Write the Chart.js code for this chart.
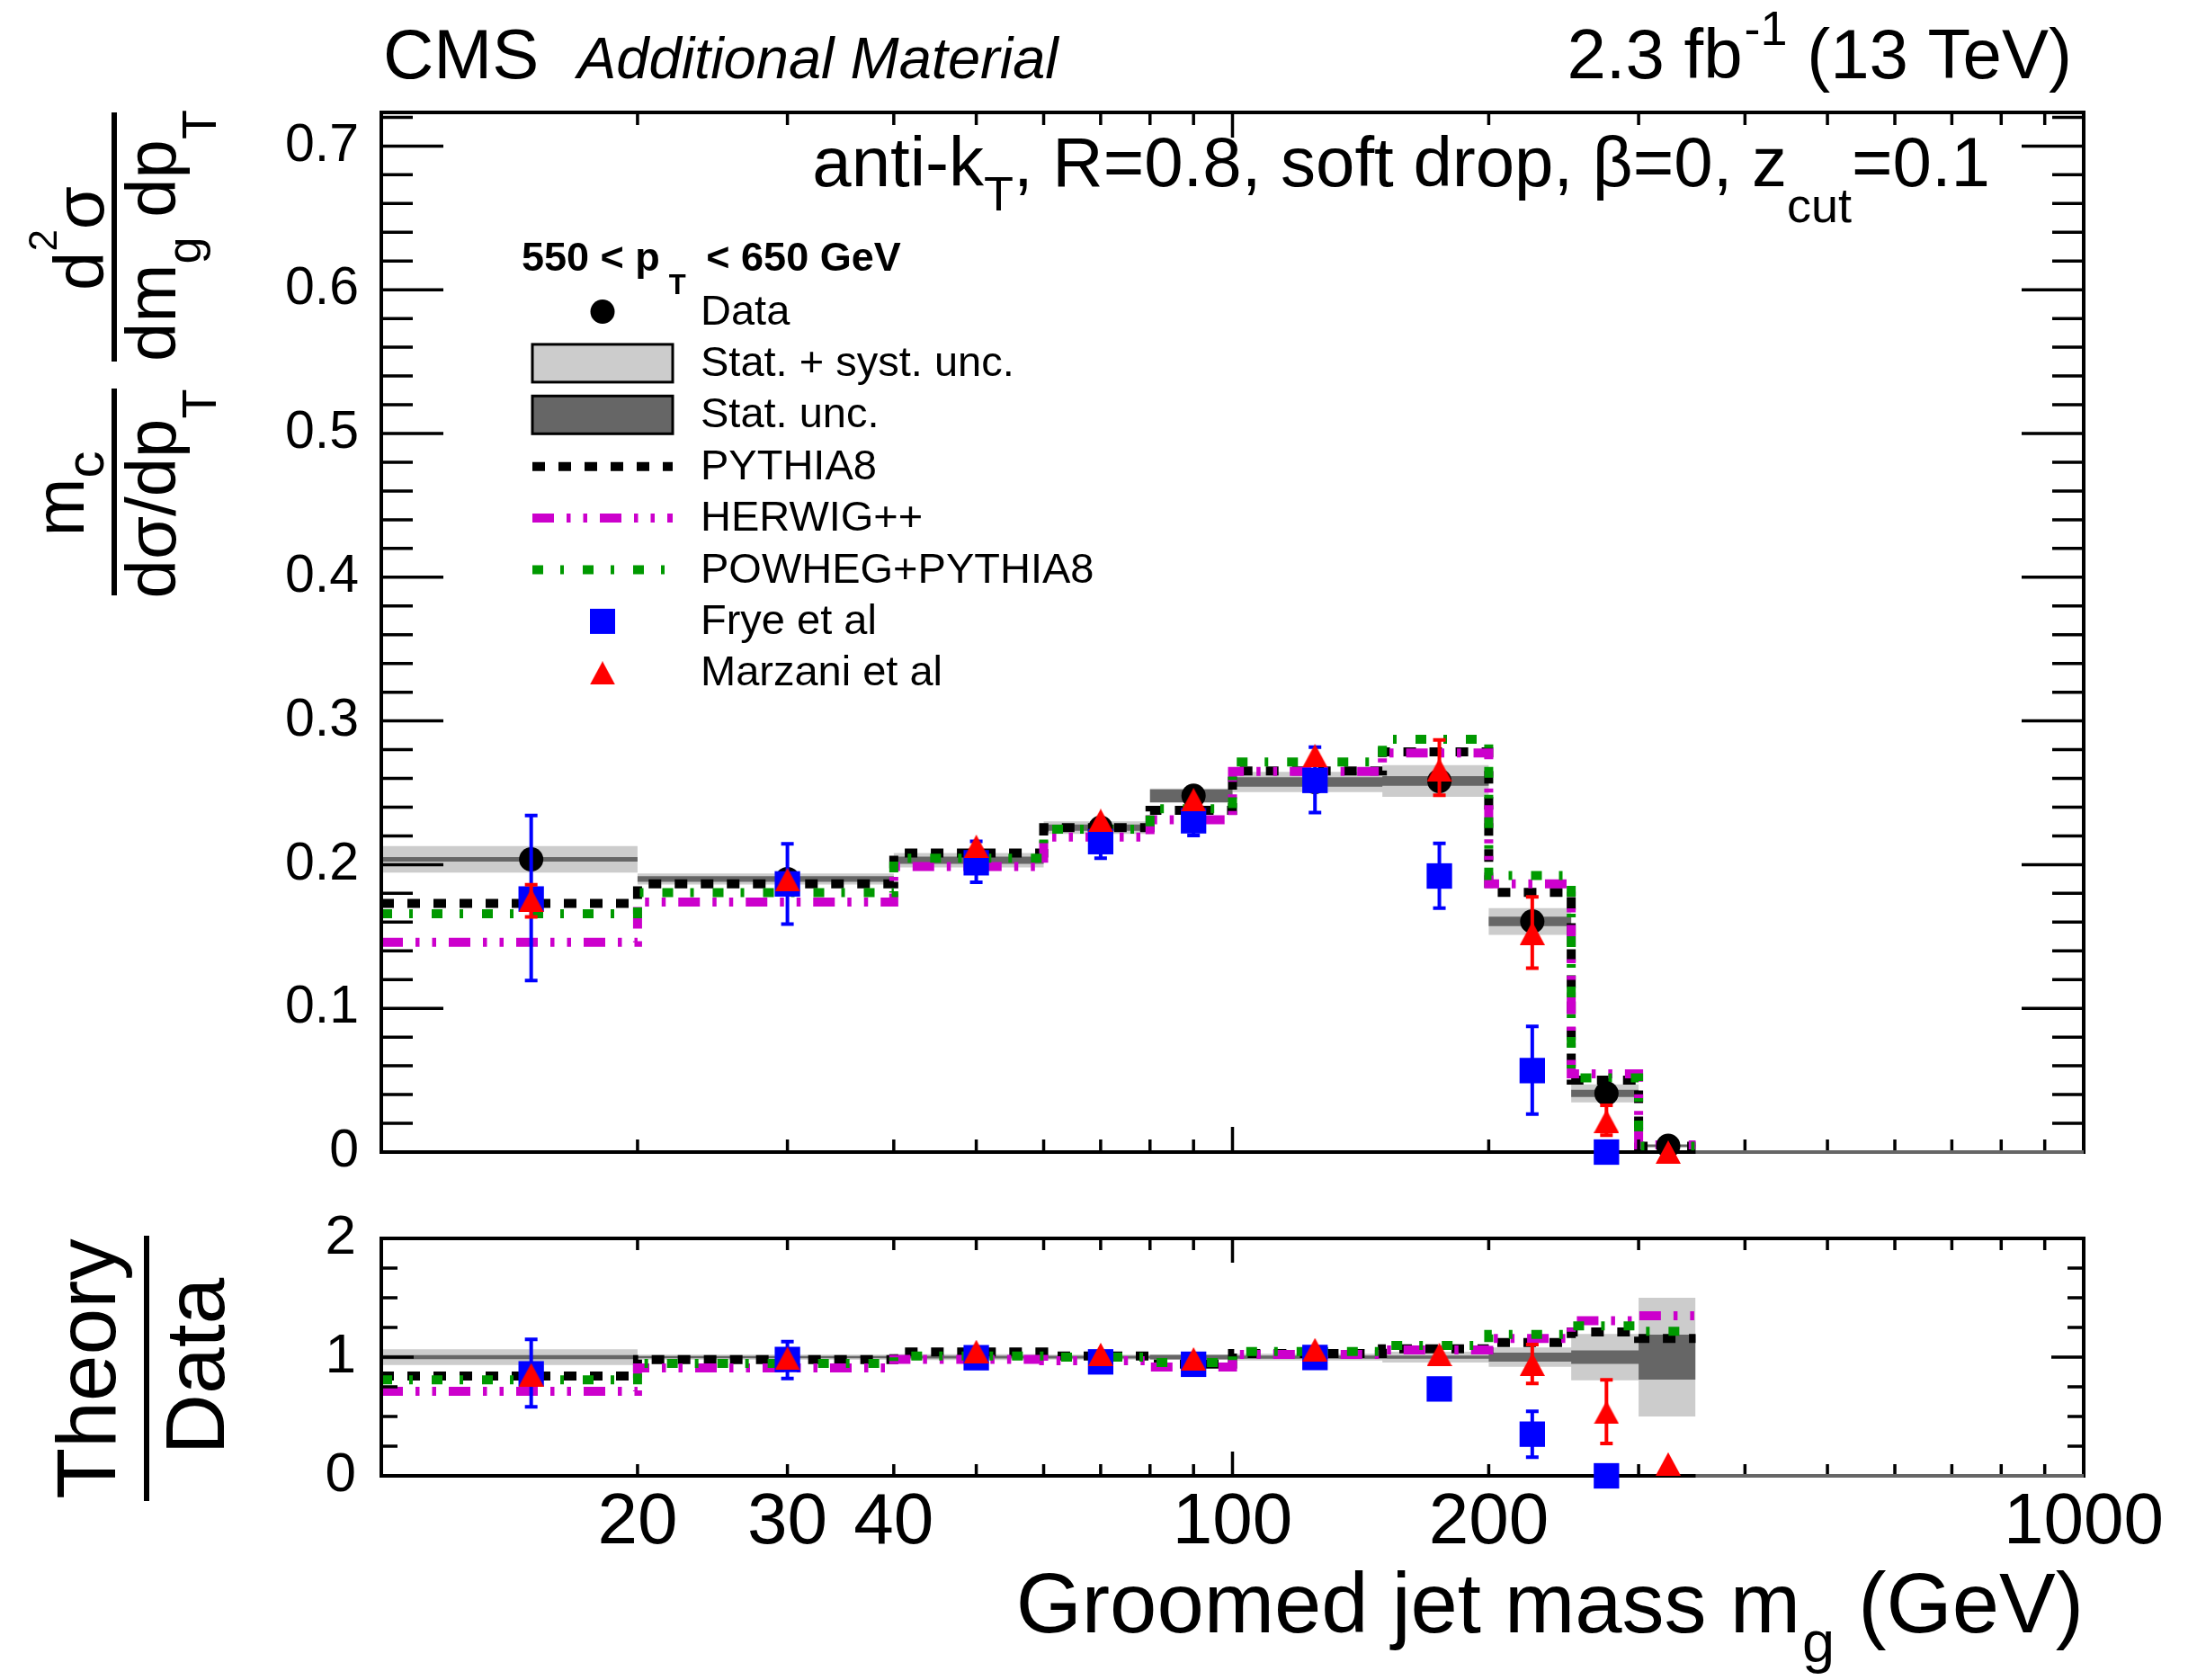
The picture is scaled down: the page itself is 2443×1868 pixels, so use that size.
<!DOCTYPE html>
<html>
<head>
<meta charset="utf-8">
<script src="https://cdn.jsdelivr.net/npm/chart.js@4.4.1/dist/chart.umd.min.js"></script>
<style>
  html, body { margin: 0; padding: 0; background: #fff; }
  #wrap { position: relative; width: 2443px; height: 1868px; }
  #wrap canvas { position: absolute; left: 0; top: 0; }
</style>
</head>
<body>
<div id="wrap">
  <canvas id="mainChart" width="2443" height="1868"></canvas>
  <canvas id="ratioChart" width="2443" height="1868"></canvas>
</div>
<script>
// bins (GeV)
const binEdges = [10, 20, 40, 60, 80, 100, 150, 200, 250, 300, 350];
const binCenters = [15, 30, 50, 70, 90, 125, 175, 225, 275, 325];
const xTickLabels = [20, 30, 40, 100, 200, 1000];

// upper panel: normalised cross section
const dataVals  = [0.2037, 0.190, 0.203, 0.2257, 0.2479, 0.2575, 0.2582, 0.1605, 0.0408, 0.0044];
const dataStat  = [0.0016, 0.002, 0.0025, 0.0022, 0.0045, 0.0033, 0.0033, 0.0033, 0.0025, 0.0008];
const dataTotal = [0.0092, 0.0038, 0.005, 0.0044, 0.005, 0.0071, 0.011, 0.0093, 0.0063, 0.0012];

const pythia = [0.173, 0.1866, 0.208, 0.2257, 0.2378, 0.2652, 0.2784, 0.1807, 0.0501, 0.004];
const herwig = [0.146, 0.174, 0.1987, 0.2192, 0.2313, 0.2648, 0.2777, 0.1866, 0.0545, 0.005];
const powheg = [0.1658, 0.1805, 0.2044, 0.2246, 0.2389, 0.2714, 0.2872, 0.1924, 0.0516, 0.004];

const frye   = [0.1761, 0.1866, 0.2013, 0.216, 0.2305, 0.2586, 0.1921, 0.0567, 0.0, null];
const fryeLo = [0.1193, 0.1586, 0.1877, 0.2044, 0.2202, 0.2363, 0.1698, 0.0264, null, null];
const fryeHi = [0.2342, 0.2145, 0.2162, 0.2276, 0.241, 0.2817, 0.2148, 0.0874, null, null];

const marzani   = [0.1752, 0.1895, 0.2127, 0.2307, 0.2452, 0.2758, 0.266, 0.1522, 0.0215, 0.0];
const marzaniLo = [0.1636, null, null, null, null, null, 0.2483, 0.128, 0.0117, null];
const marzaniHi = [0.186, null, null, null, null, null, 0.2868, 0.1775, 0.0326, null];

// lower panel: theory / data
const ratioData  = [1, 1, 1, 1, 1, 1, 1, 1, 1, 1];
const ratioStat  = [0.017, 0.01, 0.012, 0.012, 0.018, 0.013, 0.013, 0.038, 0.057, 0.19];
const ratioTotal = [0.066, 0.02, 0.025, 0.02, 0.02, 0.028, 0.045, 0.082, 0.195, 0.5];

const ratioPythia = [0.841, 0.98, 1.043, 1.01, 0.942, 1.03, 1.071, 1.124, 1.212, 1.157];
const ratioHerwig = [0.712, 0.909, 0.982, 0.97, 0.917, 1.023, 1.061, 1.157, 1.306, 1.348];
const ratioPowheg = [0.808, 0.947, 1.01, 1.0, 0.955, 1.048, 1.098, 1.192, 1.263, 1.217];

const ratioFrye   = [0.859, 0.98, 0.995, 0.96, 0.94, 0.997, 0.732, 0.351, 0.0, null];
const ratioFryeLo = [0.581, 0.821, null, null, null, null, null, 0.157, null, null];
const ratioFryeHi = [1.149, 1.131, null, null, null, null, null, 0.543, null, null];

const ratioMarzani   = [0.851, 0.99, 1.048, 1.023, 0.985, 1.063, 1.023, 0.94, 0.535, 0.1];
const ratioMarzaniLo = [null, null, null, null, null, null, null, 0.778, 0.273, null];
const ratioMarzaniHi = [null, null, null, null, null, null, null, 1.106, 0.808, null];

const FONT = "'Liberation Sans', Arial, Helvetica, sans-serif";
const MAGENTA = '#cc00cc';
const GREEN = '#009900';
const DASH_PYTHIA = [14, 15];
const DASH_HERWIG = [24, 14, 4.5, 14, 4.5, 14];
const DASH_POWHEG = [12, 19, 4, 21];

Chart.defaults.font.family = FONT;
Chart.defaults.color = '#000';

// histogram as stepped line through the bin edges
function histPoints(vals) {
  return binEdges.map((x, i) => ({x: x, y: vals[Math.min(i, vals.length - 1)]}));
}
function bandPoints(vals, errs, sign) {
  return binEdges.map((x, i) => {
    const k = Math.min(i, vals.length - 1);
    return {x: x, y: vals[k] + sign * errs[k]};
  });
}
function markerPoints(vals) {
  return binCenters.map((x, i) => ({x: x, y: vals[i]}));
}

function triangleImage(w, h, color) {
  const c = document.createElement('canvas');
  c.width = w; c.height = h;
  const g = c.getContext('2d');
  g.fillStyle = color;
  g.beginPath();
  g.moveTo(w / 2, 0); g.lineTo(w, h); g.lineTo(0, h);
  g.closePath(); g.fill();
  return c;
}
const redTriangle = triangleImage(28, 26, '#ff0000');

function bandSets(vals, errs, color, order) {
  return [
    {data: bandPoints(vals, errs, -1), stepped: true, borderColor: 'transparent', borderWidth: 0,
     pointRadius: 0, fill: false, order: order},
    {data: bandPoints(vals, errs, 1), stepped: true, borderColor: 'transparent', borderWidth: 0,
     pointRadius: 0, fill: '-1', backgroundColor: color, order: order}
  ];
}
function modelSet(vals, color, dash, order) {
  return {data: histPoints(vals), stepped: true, borderColor: color, borderWidth: 10,
          borderDash: dash, pointRadius: 0, fill: false, order: order};
}

// text with sub/superscripts: parts = [{t, f, dx, dy}]
function richWidth(ctx, parts) {
  let w = 0;
  parts.forEach(p => { ctx.font = p.f; w += ctx.measureText(p.t).width + (p.dx || 0); });
  return w;
}
function drawRich(ctx, x, y, parts, align) {
  const w = richWidth(ctx, parts);
  let cx = align === 'right' ? x - w : (align === 'center' ? x - w / 2 : x);
  ctx.textAlign = 'left';
  ctx.textBaseline = 'alphabetic';
  parts.forEach(p => {
    ctx.font = p.f;
    cx += (p.dx || 0);
    ctx.fillText(p.t, cx, y + (p.dy || 0));
    cx += ctx.measureText(p.t).width;
  });
}
function drawRotated(ctx, baseX, centerY, parts) {
  ctx.save();
  ctx.translate(baseX, centerY);
  ctx.rotate(-Math.PI / 2);
  drawRich(ctx, 0, 0, parts, 'center');
  ctx.restore();
}

// frame with ROOT-style inward ticks on all four sides
function drawFrame(chart) {
  const o = chart.options.plugins.frame;
  const {ctx, chartArea: a, scales} = chart;
  const xs = scales.x, ys = scales.y;
  ctx.save();
  ctx.strokeStyle = '#000';
  ctx.lineWidth = 3.5;
  ctx.beginPath();
  for (const dec of [10, 100]) {
    for (let k = 2; k <= 9; k++) {
      const v = k * dec;
      const px = xs.getPixelForValue(v);
      const len = o.xMinor;
      ctx.moveTo(px, a.bottom); ctx.lineTo(px, a.bottom - len);
      ctx.moveTo(px, a.top); ctx.lineTo(px, a.top + len);
    }
  }
  const p100 = xs.getPixelForValue(100);
  ctx.moveTo(p100, a.bottom); ctx.lineTo(p100, a.bottom - o.xMajor);
  ctx.moveTo(p100, a.top); ctx.lineTo(p100, a.top + o.xMajor);
  const nMinor = Math.round(o.yMax / o.yMinorStep + 1e-6);
  for (let i = 0; i <= nMinor; i++) {
    const v = i * o.yMinorStep;
    const major = Math.abs(v / o.yMajorStep - Math.round(v / o.yMajorStep)) < 1e-6;
    const py = ys.getPixelForValue(v);
    const len = major ? o.yMajor : o.yMinor;
    ctx.moveTo(a.left, py); ctx.lineTo(a.left + len, py);
    ctx.moveTo(a.right, py); ctx.lineTo(a.right - len, py);
  }
  ctx.stroke();
  ctx.lineWidth = 4;
  ctx.strokeRect(a.left, a.top, a.right - a.left, a.bottom - a.top);
  ctx.restore();
}

const framePlugin = {
  id: 'frame',
  beforeDatasetDraw(chart, args) {
    if (chart.data.datasets[args.index].frameBefore) drawFrame(chart);
  }
};

const errorBarPlugin = {
  id: 'errorBars',
  afterDatasetDraw(chart, args) {
    const ds = chart.data.datasets[args.index];
    if (!ds.errLo) return;
    const {ctx} = chart;
    const ys = chart.scales.y;
    ctx.save();
    ctx.strokeStyle = ds.errColor;
    ctx.lineWidth = 4;
    args.meta.data.forEach((pt, i) => {
      const lo = ds.errLo[i], hi = ds.errHi[i];
      if (lo == null || hi == null) return;
      const y1 = ys.getPixelForValue(lo), y2 = ys.getPixelForValue(hi);
      ctx.beginPath();
      ctx.moveTo(pt.x, y1); ctx.lineTo(pt.x, y2);
      ctx.moveTo(pt.x - 7, y1); ctx.lineTo(pt.x + 7, y1);
      ctx.moveTo(pt.x - 7, y2); ctx.lineTo(pt.x + 7, y2);
      ctx.stroke();
    });
    ctx.restore();
  }
};

const mainTextPlugin = {
  id: 'mainText',
  afterDraw(chart) {
    const ctx = chart.ctx;
    ctx.save();
    ctx.fillStyle = '#000';
    drawRich(ctx, 426, 87, [{t: 'CMS', f: `78px ${FONT}`}], 'left');
    drawRich(ctx, 642, 87, [{t: 'Additional Material', f: `italic 65px ${FONT}`}], 'left');
    drawRich(ctx, 2304, 87, [
      {t: '2.3 fb', f: `78px ${FONT}`},
      {t: '-1', f: `54px ${FONT}`, dy: -37, dx: 2},
      {t: ' (13 TeV)', f: `78px ${FONT}`}
    ], 'right');
    drawRich(ctx, 2213, 207, [
      {t: 'anti-k', f: `78px ${FONT}`},
      {t: 'T', f: `54px ${FONT}`, dy: 27},
      {t: ', R=0.8, soft drop, \u03b2=0, z', f: `78px ${FONT}`},
      {t: 'cut', f: `54px ${FONT}`, dy: 40},
      {t: '=0.1', f: `78px ${FONT}`}
    ], 'right');

    // y title
    const F = `78px ${FONT}`, S = `54px ${FONT}`;
    drawRotated(ctx, 115, 265, [{t: 'd', f: F}, {t: '2', f: `44px ${FONT}`, dy: -52}, {t: '\u03c3', f: F}]);
    drawRotated(ctx, 195, 262, [{t: 'dm', f: F}, {t: 'g', f: S, dy: 28}, {t: ' dp', f: F}, {t: 'T', f: S, dy: 45}]);
    drawRotated(ctx, 93, 549, [{t: 'm', f: F}, {t: 'c', f: `60px ${FONT}`, dy: 22}]);
    drawRotated(ctx, 195, 549, [{t: 'd\u03c3/dp', f: F}, {t: 'T', f: S, dy: 45}]);
    ctx.fillRect(124, 125, 6, 277);
    ctx.fillRect(124, 432, 6, 230);

    // legend
    drawRich(ctx, 580, 301, [
      {t: '550 < p', f: `bold 45px ${FONT}`},
      {t: 'T', f: `bold 31px ${FONT}`, dx: 10, dy: 26},
      {t: ' < 650 GeV', f: `bold 45px ${FONT}`, dx: 10}
    ], 'left');
    const rows = ['Data', 'Stat. + syst. unc.', 'Stat. unc.', 'PYTHIA8', 'HERWIG++',
                  'POWHEG+PYTHIA8', 'Frye et al', 'Marzani et al'];
    const y0 = 346.5, step = 57.4, sx = 670, x1 = 592, x2 = 748;
    rows.forEach((label, i) => {
      const yy = y0 + i * step;
      drawRich(ctx, 779, yy + 14, [{t: label, f: `47px ${FONT}`}], 'left');
    });
    // symbols
    let yy = y0;
    ctx.beginPath(); ctx.arc(sx, yy, 13.5, 0, Math.PI * 2); ctx.fillStyle = '#000'; ctx.fill();
    yy = y0 + step;
    ctx.fillStyle = '#cccccc'; ctx.fillRect(x1, yy - 21, x2 - x1, 42);
    ctx.strokeStyle = '#000'; ctx.lineWidth = 3; ctx.strokeRect(x1, yy - 21, x2 - x1, 42);
    yy = y0 + 2 * step;
    ctx.fillStyle = '#666666'; ctx.fillRect(x1, yy - 21, x2 - x1, 42);
    ctx.strokeRect(x1, yy - 21, x2 - x1, 42);
    [[DASH_PYTHIA, '#000'], [DASH_HERWIG, MAGENTA], [DASH_POWHEG, GREEN]].forEach((d, k) => {
      const ly = y0 + (3 + k) * step;
      ctx.save();
      ctx.setLineDash(d[0]); ctx.strokeStyle = d[1]; ctx.lineWidth = 10; ctx.lineCap = 'butt';
      ctx.beginPath(); ctx.moveTo(x1, ly); ctx.lineTo(x2, ly); ctx.stroke();
      ctx.restore();
    });
    yy = y0 + 6 * step;
    ctx.fillStyle = '#0000ff'; ctx.fillRect(sx - 14, yy - 14, 28, 28);
    yy = y0 + 7 * step;
    ctx.drawImage(redTriangle, sx - 14, yy - 13);
    ctx.restore();
  }
};

const ratioTextPlugin = {
  id: 'ratioText',
  afterDraw(chart) {
    const ctx = chart.ctx;
    ctx.save();
    ctx.fillStyle = '#000';
    drawRich(ctx, 2317, 1815, [
      {t: 'Groomed jet mass m', f: `94px ${FONT}`},
      {t: 'g', f: `65px ${FONT}`, dy: 33, dx: 2},
      {t: ' (GeV)', f: `94px ${FONT}`}
    ], 'right');
    drawRotated(ctx, 128, 1522, [{t: 'Theory', f: `93px ${FONT}`}]);
    drawRotated(ctx, 249, 1519, [{t: 'Data', f: `93px ${FONT}`}]);
    ctx.fillRect(160, 1374, 6, 295);
    ctx.restore();
  }
};

// upper panel
new Chart(document.getElementById('mainChart'), {
  type: 'line',
  data: {
    datasets: [
      ...bandSets(dataVals, dataTotal, '#cccccc', 20),
      ...bandSets(dataVals, dataStat, '#666666', 19),
      modelSet(pythia, '#000000', DASH_PYTHIA, 10),
      modelSet(herwig, MAGENTA, DASH_HERWIG, 9),
      modelSet(powheg, GREEN, DASH_POWHEG, 8),
      {data: [{x: 350, y: 0}, {x: 1000, y: 0}], borderColor: '#666666', borderWidth: 4,
       pointRadius: 0, fill: false, order: 7, frameBefore: true, clip: false},
      {data: markerPoints(dataVals), showLine: false, pointStyle: 'circle', pointRadius: 13.5,
       pointBackgroundColor: '#000', pointBorderWidth: 0, order: 5, clip: false},
      {data: markerPoints(frye), showLine: false, pointStyle: 'rect', pointRadius: 20,
       pointBackgroundColor: '#0000ff', pointBorderWidth: 0, order: 4, clip: false,
       errLo: fryeLo, errHi: fryeHi, errColor: '#0000ff'},
      {data: markerPoints(marzani), showLine: false, pointStyle: redTriangle, pointRadius: 14,
       pointBorderWidth: 0, order: 3, clip: false,
       errLo: marzaniLo, errHi: marzaniHi, errColor: '#ff0000'}
    ]
  },
  options: {
    responsive: false,
    animation: false,
    devicePixelRatio: 1,
    events: [],
    layout: {padding: {left: 0, top: 125, right: 126, bottom: 587}},
    plugins: {
      legend: {display: false},
      tooltip: {enabled: false},
      frame: {xMajor: 28, xMinor: 14, yMajor: 69, yMinor: 35, yMax: 0.72, yMajorStep: 0.1, yMinorStep: 0.02}
    },
    elements: {line: {tension: 0}},
    scales: {
      x: {type: 'logarithmic', min: 10, max: 1000, display: false},
      y: {
        type: 'linear', min: 0, max: 0.7234,
        grid: {display: false}, border: {display: false},
        afterFit: s => { s.width = 424; },
        ticks: {
          stepSize: 0.1, includeBounds: false, padding: 17,
          font: {size: 59},
          callback: v => (Math.abs(v) < 1e-9 ? '0' : v.toFixed(1))
        }
      }
    }
  },
  plugins: [framePlugin, errorBarPlugin, mainTextPlugin]
});

// lower panel
new Chart(document.getElementById('ratioChart'), {
  type: 'line',
  data: {
    datasets: [
      ...bandSets(ratioData, ratioTotal, '#cccccc', 20),
      ...bandSets(ratioData, ratioStat, '#666666', 19),
      modelSet(ratioPythia, '#000000', DASH_PYTHIA, 10),
      modelSet(ratioHerwig, MAGENTA, DASH_HERWIG, 9),
      modelSet(ratioPowheg, GREEN, DASH_POWHEG, 8),
      {data: [{x: 350, y: 0}, {x: 1000, y: 0}], borderColor: '#666666', borderWidth: 4,
       pointRadius: 0, fill: false, order: 7, frameBefore: true, clip: false},
      {data: markerPoints(ratioFrye), showLine: false, pointStyle: 'rect', pointRadius: 20,
       pointBackgroundColor: '#0000ff', pointBorderWidth: 0, order: 4, clip: false,
       errLo: ratioFryeLo, errHi: ratioFryeHi, errColor: '#0000ff'},
      {data: markerPoints(ratioMarzani), showLine: false, pointStyle: redTriangle, pointRadius: 14,
       pointBorderWidth: 0, order: 3, clip: false,
       errLo: ratioMarzaniLo, errHi: ratioMarzaniHi, errColor: '#ff0000'}
    ]
  },
  options: {
    responsive: false,
    animation: false,
    devicePixelRatio: 1,
    events: [],
    layout: {padding: {left: 0, top: 1377, right: 126, bottom: 0}},
    plugins: {
      legend: {display: false},
      tooltip: {enabled: false},
      frame: {xMajor: 27, xMinor: 13, yMajor: 36, yMinor: 18, yMax: 2, yMajorStep: 1, yMinorStep: 0.25}
    },
    elements: {line: {tension: 0}},
    scales: {
      x: {
        type: 'logarithmic', min: 10, max: 1000,
        grid: {display: false}, border: {display: false},
        afterFit: s => { s.height = 1868 - 1641; },
        ticks: {
          autoSkip: false, maxRotation: 0, padding: -3,
          font: {size: 80},
          callback: v => (xTickLabels.includes(Math.round(v)) ? String(Math.round(v)) : '')
        }
      },
      y: {
        type: 'linear', min: 0, max: 2,
        grid: {display: false}, border: {display: false},
        afterFit: s => { s.width = 424; },
        ticks: {stepSize: 1, includeBounds: false, padding: 20, font: {size: 62}}
      }
    }
  },
  plugins: [framePlugin, errorBarPlugin, ratioTextPlugin]
});
</script>
</body>
</html>
